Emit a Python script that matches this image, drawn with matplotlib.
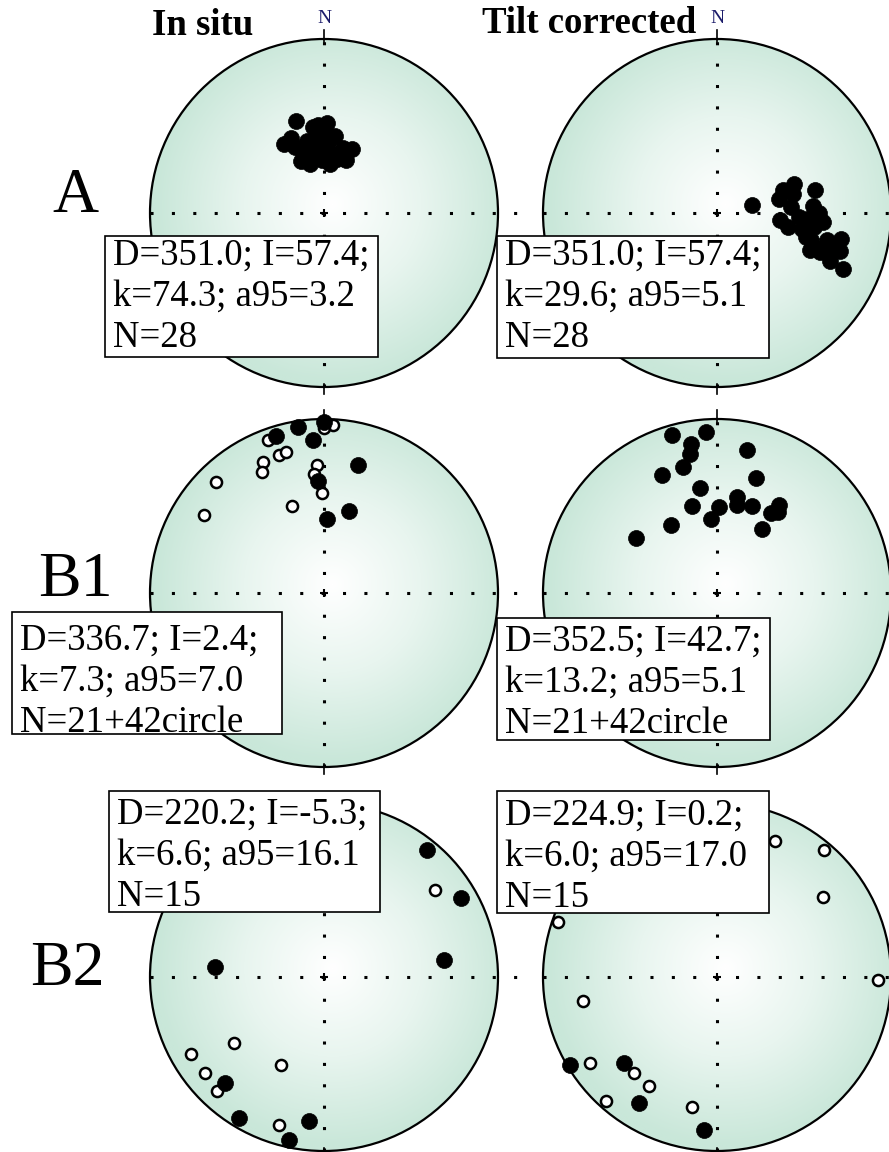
import numpy as np
import matplotlib
matplotlib.use('Agg')
import matplotlib.pyplot as plt
from matplotlib.patches import Circle, Rectangle
from matplotlib.colors import LinearSegmentedColormap

plt.rcParams['font.family'] = ['Liberation Serif', 'DejaVu Serif']

# ---- data: declination / inclination (inc < 0 -> upper hemisphere, open symbol)
a_insitu_dec = [343, 330, 336, 341, 344, 353, 2, 1, 3, 356, 14, 24, 16, 355,
                8, 351, 347, 336, 356, 8, 358, 15, 336, 7, 352, 22, 2, 346]
a_insitu_inc = [44, 52, 56, 60, 66, 49, 47, 52, 57, 60, 64, 57, 58, 54,
                62, 64, 55, 51, 48, 53, 65, 62, 63, 67, 58, 63, 60, 59]

a_tilt_dec = [77, 69, 77, 77, 85, 96, 101, 86, 94, 95, 101, 106, 112, 104,
              102, 111, 107, 113, 114, 90, 93, 71, 76, 105, 108, 106, 98, 110]
a_tilt_inc = [73, 51, 42, 60, 55, 60, 56, 44, 47, 39, 49, 43, 42, 35,
              28, 37, 27, 30, 22, 41, 51, 57, 53, 46, 36, 31, 43, 32]

b1_insitu_dec = [343, 351, 0, 356, 15, 357, 17, 2,
                 3, 0, 340, 342, 345, 335, 333, 357, 355, 359, 316, 340, 303]
b1_insitu_inc = [6, 4, 2, 13, 25, 36, 49, 55,
                 -4, -6, -7, -18, -17, -18, -23, -27, -32, -42, -12, -46, -19]

b1_tilt_dec = [344, 356, 350, 349, 345, 335, 12, 19, 351, 344, 1,
               355, 12, 13, 22, 35, 34, 37, 326, 35, 304]
b1_tilt_inc = [6, 8, 14, 20, 26, 26, 17, 31, 39, 47, 49,
               55, 43, 47, 45, 38, 44, 41, 51, 53, 43]

b2_insitu_dec = [39, 60, 82, 275, 223, 211, 186, 192,
                 52, 234, 240, 231, 223, 206, 197]
b2_insitu_inc = [7, 10, 31, 37, 18, 6, 18, 5,
                 -20, -36, -13, -13, -11, -43, -12]

b2_tilt_dec = [23, 40, 53, 289, 91, 260, 236, 221, 212, 222, 191,
               239, 227, 212, 185]
b2_tilt_inc = [-16, -5, -25, -4, -8, -23, -13, -28, -27, -5, -25,
               2, 28, 16, 13]

row_labels = ['A', 'B1', 'B2']
col_titles = ['In situ', 'Tilt corrected']

stats = [
    ['D=351.0; I=57.4;', 'k=74.3; a95=3.2', 'N=28'],
    ['D=351.0; I=57.4;', 'k=29.6; a95=5.1', 'N=28'],
    ['D=336.7; I=2.4;', 'k=7.3; a95=7.0', 'N=21+42circle'],
    ['D=352.5; I=42.7;', 'k=13.2; a95=5.1', 'N=21+42circle'],
    ['D=220.2; I=-5.3;', 'k=6.6; a95=16.1', 'N=15'],
    ['D=224.9; I=0.2;', 'k=6.0; a95=17.0', 'N=15'],
]
decs = [a_insitu_dec, a_tilt_dec, b1_insitu_dec, b1_tilt_dec, b2_insitu_dec, b2_tilt_dec]
incs = [a_insitu_inc, a_tilt_inc, b1_insitu_inc, b1_tilt_inc, b2_insitu_inc, b2_tilt_inc]

W, H = 889, 1152


def fx(x):
    return x / W


def fy(y):
    return 1 - y / H


def eqarea(dec, inc):
    dec = np.radians(np.asarray(dec, float))
    inc = np.asarray(inc, float)
    r = np.sqrt(2) * np.sin(np.radians(90 - np.abs(inc)) / 2)
    return r * np.sin(dec), r * np.cos(dec)


net_cmap = LinearSegmentedColormap.from_list(
    'net', [(0, '#ffffff'), (0.5, '#e8f5ef'), (1, '#c9e7d9')])
gy, gx = np.mgrid[-1:1:400j, -1:1:400j]
grad = np.hypot(gx - 0.05, gy - 0.05)


def stereonet(ax, dec, inc, right_ext, north=False):
    ax.set_xlim(-1, 1)
    ax.set_ylim(-1, 1)
    ax.set_aspect('equal')
    ax.axis('off')
    rim = Circle((0, 0), 1, facecolor='none', edgecolor='black', lw=1.6,
                 zorder=4, clip_on=False)
    ax.add_patch(rim)
    img = ax.imshow(grad, extent=[-1, 1, -1, 1], origin='lower', cmap=net_cmap,
                    vmin=0, vmax=1.02, zorder=0)
    img.set_clip_path(rim)
    dots = dict(color='black', lw=2.2, ls=(0, (1, 6)), clip_on=False, zorder=2)
    ax.plot([-1, right_ext], [0, 0], **dots)
    ax.plot([0, 0], [-1, 1], **dots)
    ax.plot([0, 0], [0.98, 1.05], color='black', lw=1.2, clip_on=False, zorder=2)
    ax.plot([0, 0], [-1.04, -0.98], color='black', lw=1.2, clip_on=False, zorder=2)
    ax.plot(0, 0, '+', color='black', ms=6, mew=1.5, zorder=2)
    if north:
        ax.text(0, 1.12, 'N', color='#1c1c6a', fontsize=14, ha='center', va='center')

    x, y = eqarea(dec, inc)
    down = np.asarray(inc) >= 0
    ax.plot(x[~down], y[~down], 'o', ms=8, mfc='white', mec='black', mew=1.8,
            clip_on=False, zorder=5)
    ax.plot(x[down], y[down], 'o', ms=11.5, mfc='black', mec='black', mew=0.5,
            clip_on=False, zorder=6)


fig = plt.figure(figsize=(8.89, 11.52), dpi=100)

R = 174
col_cx = [324, 717]
row_cy = [213, 593, 977]
right_ext = [1.13, 1.0]

# box: left, top, right, bottom, first-baseline offset (pixels)
boxes = [
    (105, 236, 378, 357, 29),
    (497, 236, 769, 358, 29),
    (12, 612, 282, 734, 38),
    (497, 618, 770, 740, 33),
    (109, 791, 380, 912, 33),
    (497, 791, 769, 913, 34),
]

for i in range(6):
    r, c = divmod(i, 2)
    cx, cy = col_cx[c], row_cy[r]
    ax = fig.add_axes([fx(cx - R), fy(cy + R), 2 * R / W, 2 * R / H])
    stereonet(ax, decs[i], incs[i], right_ext[c], north=(r == 0))

    l, t, rr, b, off = boxes[i]
    fig.add_artist(Rectangle((fx(l), fy(b)), fx(rr) - fx(l), fy(t) - fy(b),
                             transform=fig.transFigure, fc='white', ec='black',
                             lw=1.2, zorder=6))
    for k, line in enumerate(stats[i]):
        fig.text(fx(l + 8), fy(t + off + k * 41), line, fontsize=26.5,
                 va='baseline', ha='left', zorder=7)

# column titles and row labels
fig.text(fx(152), fy(35), col_titles[0], fontsize=26.5, fontweight='bold', va='baseline')
fig.text(fx(482), fy(33), col_titles[1], fontsize=26.5, fontweight='bold', va='baseline')

label_pos = [(75, 212), (75, 596), (67, 985)]
for lab, (x, y) in zip(row_labels, label_pos):
    fig.text(fx(x), fy(y), lab, fontsize=46, ha='center', va='baseline')

fig.savefig('out.png', dpi=100)
